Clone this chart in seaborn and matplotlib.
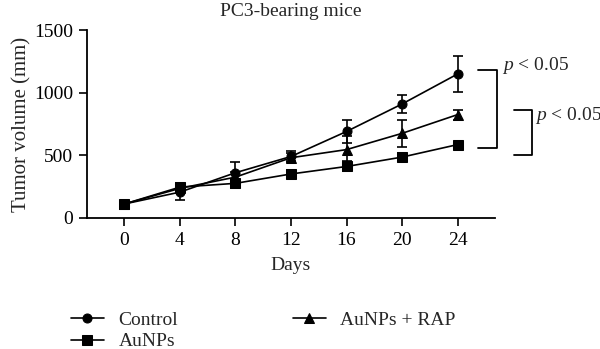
import matplotlib
matplotlib.use("Agg")
import matplotlib.pyplot as plt
import seaborn as sns
import pandas as pd
import numpy as np

days = [0, 4, 8, 12, 16, 20, 24]
control = [110, 205, 360, 490, 690, 910, 1150]
control_err = [10, 60, 85, 40, 90, 70, 145]
aunps = [110, 245, 275, 350, 410, 485, 585]
aunps_err = [10, 30, 35, 30, 40, 30, 12]
aunps_rap = [110, 235, 325, 480, 545, 675, 825]
aunps_rap_err = [10, 25, 40, 35, 110, 110, 40]

groups = ["Control", "AuNPs", "AuNPs + RAP"]
means = [control, aunps, aunps_rap]
errs = [control_err, aunps_err, aunps_rap_err]
markers = {"Control": "o", "AuNPs": "s", "AuNPs + RAP": "^"}

rows = []
for g, m, e in zip(groups, means, errs):
    for d, v, s in zip(days, m, e):
        rows.append({"Days": d, "Volume": v, "Err": s, "Group": g})
df = pd.DataFrame(rows)

sns.set_theme(style="ticks")
plt.rcParams['font.family'] = ['Liberation Serif', 'DejaVu Serif']
plt.rcParams['mathtext.fontset'] = 'custom'
plt.rcParams['mathtext.it'] = 'Liberation Serif:italic'
plt.rcParams['mathtext.rm'] = 'Liberation Serif'

FS = 14

fig = plt.figure(figsize=(6, 3.49), dpi=100)
ax = fig.add_axes([0.145, 0.3762, 0.825 - 0.145, 0.9132 - 0.3762])

sns.lineplot(data=df, x="Days", y="Volume", hue="Group", style="Group",
             markers=markers, dashes=False, palette=["black"] * 3,
             markersize=6.5, linewidth=1.2, markeredgecolor="black",
             ax=ax, legend=True)
for g in groups:
    sub = df[df.Group == g]
    ax.errorbar(sub.Days, sub.Volume, yerr=sub.Err, fmt="none",
                ecolor="black", elinewidth=1.2, capsize=3.5, capthick=1.2)

ax.set_xlim(-2.7, 26.7)
ax.set_ylim(0, 1500)
ax.set_xticks(days)
ax.set_yticks([0, 500, 1000, 1500])
ax.tick_params(axis="both", direction="out", length=6, width=1.2,
               labelsize=FS, colors="black", pad=4)
for sp in ["top", "right"]:
    ax.spines[sp].set_visible(False)
for sp in ["left", "bottom"]:
    ax.spines[sp].set_linewidth(1.3)
    ax.spines[sp].set_color("black")

ax.set_xlabel("Days", fontsize=FS, labelpad=6)
ax.set_ylabel("Tumor volume (mm)", fontsize=FS + 1, labelpad=2)
ax.set_title("PC3-bearing mice", fontsize=FS, pad=10)

def bracket(x0, x1, y_top, y_bot, tx, ty, label):
    ax.plot([x0, x1, x1, x0], [y_top, y_top, y_bot, y_bot], color="black",
            lw=1.3, clip_on=False)
    ax.text(tx, ty, label, fontsize=FS, va="center", ha="left", clip_on=False)

bracket(25.45, 26.82, 1181, 557, 27.2, 1215, r"$p$ < 0.05")
bracket(28.1, 29.35, 865, 504, 29.55, 815, r"$p$ < 0.05")

h, l = ax.get_legend_handles_labels()
ax.legend(h, l, loc="center left", bbox_to_anchor=(0.105, 0.052),
          bbox_transform=fig.transFigure, ncol=2, frameon=False,
          fontsize=FS, handlelength=1.7, columnspacing=5.9,
          labelspacing=0.2, handletextpad=0.75, borderaxespad=0)

fig.savefig("out.png", dpi=100)
